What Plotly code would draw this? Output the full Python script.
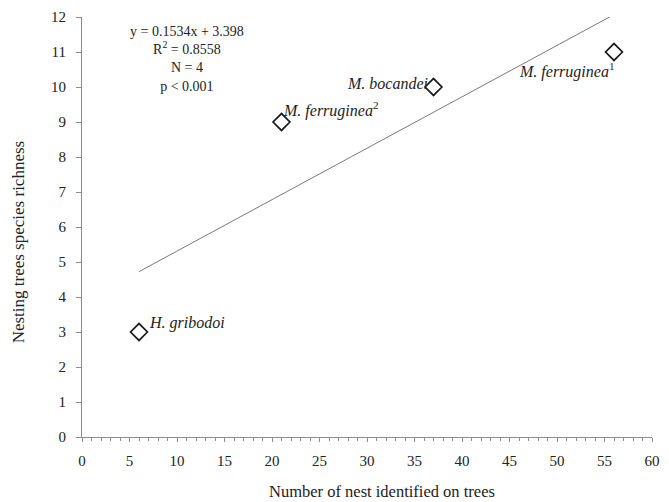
import numpy as np
import plotly.graph_objects as go

# Nest counts per bee species and richness of nesting tree species
species = ["<i>H. gribodoi</i>", "<i>M. ferruginea</i><sup>2</sup>", "<i>M. bocandei</i>",
           "<i>M. ferruginea</i><sup>1</sup>"]
nests = [6, 21, 37, 56]
richness = [3, 9, 10, 11]

stats_lines = ["y = 0.1534x + 3.398", "R<sup>2</sup> = 0.8558", "N = 4", "p < 0.001"]

x_ticks = list(range(0, 61, 5))
y_ticks = list(range(0, 13, 1))

FONT = "Liberation Serif, Times New Roman, serif"
TEXT = "#222222"
AXIS_GREY = "#8c8c8c"

# Plot-area geometry in pixels (used to place free text in paper space)
W, H = 669, 502
L, R, T, B = 82, 9, 16, 65
PW, PH = W - L - R, H - T - B


def px_to_paper(px, py):
    return (px - L) / PW, 1 - (py - T) / PH


# Least-squares trend line spanning the observed range
slope, intercept = np.polyfit(nests, richness, 1)
fit_x = [min(nests), max(nests)]
fit_y = [slope * v + intercept for v in fit_x]

fig = go.Figure()
fig.add_trace(go.Scatter(
    x=fit_x, y=fit_y, mode="lines",
    line=dict(color="#7a7a7a", width=1),
    hoverinfo="skip", showlegend=False,
))
fig.add_trace(go.Scatter(
    x=nests, y=richness, mode="markers",
    marker=dict(symbol="diamond-open", size=13, color="#1a1a1a",
                line=dict(width=1.7, color="#1a1a1a")),
    showlegend=False,
))

# Species labels placed around each marker
label_pos = [
    dict(xanchor="left", yanchor="middle", xshift=8, yshift=9),
    dict(xanchor="left", yanchor="middle", xshift=-1, yshift=13),
    dict(xanchor="right", yanchor="middle", xshift=-4, yshift=4),
    dict(xanchor="right", yanchor="middle", xshift=2, yshift=-18),
]
for name, xv, yv, pos in zip(species, nests, richness, label_pos):
    fig.add_annotation(
        x=xv, y=yv, xref="x", yref="y", text=name,
        showarrow=False, font=dict(family=FONT, size=16, color=TEXT),
        **pos,
    )

# Regression statistics block
ax, ay = px_to_paper(188, 58)
fig.add_annotation(
    x=ax, y=ay, xref="paper", yref="paper", text="<br>".join(stats_lines),
    showarrow=False, align="center", xanchor="center", yanchor="middle",
    font=dict(family=FONT, size=14, color=TEXT),
)

# Axis titles
tx, ty = px_to_paper(386, 492)
fig.add_annotation(
    x=tx, y=ty, xref="paper", yref="paper", text="Number of nest identified on trees",
    showarrow=False, xanchor="center", yanchor="middle",
    font=dict(family=FONT, size=16.5, color=TEXT),
)
tx, ty = px_to_paper(18, 241)
fig.add_annotation(
    x=tx, y=ty, xref="paper", yref="paper", text="Nesting trees species richness",
    showarrow=False, xanchor="center", yanchor="middle", textangle=-90,
    font=dict(family=FONT, size=17, color=TEXT),
)

fig.update_layout(
    width=W, height=H,
    margin=dict(l=L, r=R, t=T, b=B),
    paper_bgcolor="white", plot_bgcolor="white",
    font=dict(family=FONT, size=15, color=TEXT),
    xaxis=dict(
        range=[0, 60], tickvals=x_ticks, ticktext=[str(v) for v in x_ticks],
        showgrid=False, zeroline=False,
        showline=True, linecolor=AXIS_GREY, linewidth=1,
        ticks="outside", ticklen=4, tickcolor=AXIS_GREY,
        minor=dict(dtick=1, ticks="outside", ticklen=3, tickcolor=AXIS_GREY, showgrid=False),
        tickfont=dict(family=FONT, size=15, color=TEXT),
        ticklabelstandoff=6,
    ),
    yaxis=dict(
        range=[0, 12], tickvals=y_ticks, ticktext=[str(v) for v in y_ticks],
        showgrid=False, zeroline=False,
        showline=True, linecolor=AXIS_GREY, linewidth=1,
        ticks="outside", ticklen=5, tickcolor=AXIS_GREY,
        tickfont=dict(family=FONT, size=15, color=TEXT),
        ticklabelstandoff=7,
    ),
)

fig.write_html("out.html")
